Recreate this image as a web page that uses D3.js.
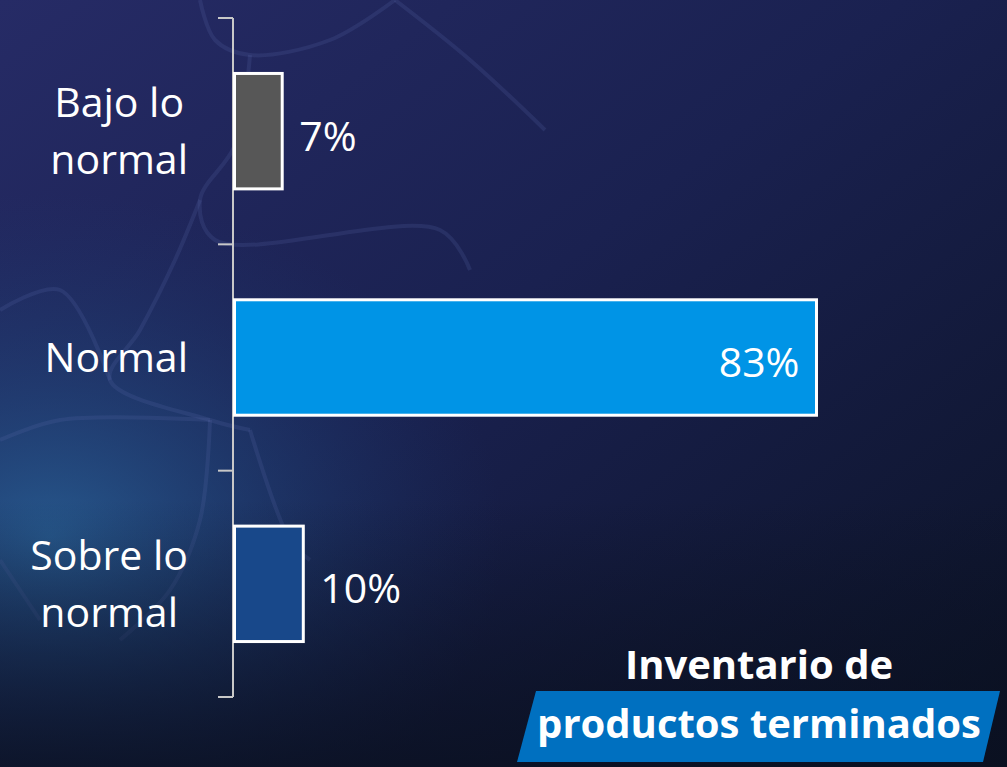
<!DOCTYPE html>
<html>
<head>
<meta charset="utf-8">
<script src="https://cdn.jsdelivr.net/npm/d3@7/dist/d3.min.js"></script>
<style>
  html, body { margin: 0; padding: 0; background: #111a33; }
  svg { display: block; font-family: "Open Sans", "Noto Sans", sans-serif; }
</style>
</head>
<body>
<div id="container"></div>
<script>
var categories = [['Bajo lo', 'normal'], ['Normal'], ['Sobre lo', 'normal']];
var values = [7, 83, 10];
var valueLabels = ['7%', '83%', '10%'];
var barColors = ['#575757', '#0094e6', '#18488a'];
var titleLines = ['Inventario de', 'productos terminados'];

var width = 1007;
var height = 767;
var axisX = 233;

var svg = d3.select('#container')
	.append('svg')
	.attr('width', width)
	.attr('height', height);

// background
var defs = svg.append('defs');
var bg = defs.append('linearGradient')
	.attr('id', 'bg')
	.attr('x1', 0).attr('y1', 0).attr('x2', 1).attr('y2', 1);
bg.append('stop').attr('offset', '0%').attr('stop-color', '#262b66');
bg.append('stop').attr('offset', '45%').attr('stop-color', '#1a2150');
bg.append('stop').attr('offset', '100%').attr('stop-color', '#0b1224');

var glow = defs.append('radialGradient')
	.attr('id', 'glow')
	.attr('cx', 0.05).attr('cy', 0.7).attr('r', 0.45);
glow.append('stop').attr('offset', '0%').attr('stop-color', '#2a6aa0').attr('stop-opacity', 0.75);
glow.append('stop').attr('offset', '100%').attr('stop-color', '#1a3a70').attr('stop-opacity', 0);

var shade = defs.append('linearGradient')
	.attr('id', 'shade')
	.attr('x1', 0).attr('y1', 0).attr('x2', 0).attr('y2', 1);
shade.append('stop').attr('offset', '0%').attr('stop-color', '#0a1020').attr('stop-opacity', 0);
shade.append('stop').attr('offset', '100%').attr('stop-color', '#0a1020').attr('stop-opacity', 0.8);

svg.append('rect').attr('width', width).attr('height', height).attr('fill', 'url(#bg)');
svg.append('rect').attr('width', width).attr('height', height).attr('fill', 'url(#glow)');

// faint ball panel seams
var seams = [
	[[200, 0], [215, 40], [250, 55], [330, 40], [395, 0]],
	[[250, 55], [235, 145], [200, 200], [215, 240], [440, 230], [470, 270]],
	[[395, 0], [470, 60], [545, 130]],
	[[200, 200], [175, 260], [140, 330], [110, 380], [210, 420], [250, 430]],
	[[0, 310], [60, 290], [110, 380]],
	[[210, 420], [200, 520], [170, 590], [120, 640]],
	[[0, 440], [60, 420], [210, 420]],
	[[0, 560], [40, 620]],
	[[250, 430], [290, 540], [310, 560]]
];
svg.append('g')
	.selectAll('path')
	.data(seams)
	.enter()
	.append('path')
	.attr('d', d3.line().curve(d3.curveCatmullRom))
	.attr('fill', 'none')
	.attr('stroke', '#5b6aa8')
	.attr('stroke-opacity', 0.2)
	.attr('stroke-width', 4);

svg.append('rect').attr('y', 500).attr('width', width).attr('height', 267).attr('fill', 'url(#shade)');

// scales
var y = d3.scaleBand()
	.domain(d3.range(categories.length))
	.range([18, 697])
	.padding(0);

var x = d3.scaleLinear()
	.domain([0, 100])
	.range([axisX, axisX + 703]);

var barH = y.bandwidth() * 0.51;

// axis
var axis = svg.append('g').attr('stroke', '#c8c8c8').attr('stroke-width', 2);
axis.append('line')
	.attr('x1', axisX).attr('x2', axisX)
	.attr('y1', y.range()[0]).attr('y2', y.range()[1]);
var tickPos = y.domain().map((d) => y(d)).concat([y.range()[1]]);
axis.selectAll('line.tick')
	.data(tickPos)
	.enter()
	.append('line')
	.attr('class', 'tick')
	.attr('x1', axisX - 15).attr('x2', axisX)
	.attr('y1', (d) => d).attr('y2', (d) => d);

// bars
svg.append('g')
	.selectAll('rect')
	.data(values)
	.enter()
	.append('rect')
	.attr('x', x(0) + 1.5)
	.attr('y', (d, i) => y(i) + y.bandwidth() / 2 - barH / 2)
	.attr('width', (d) => x(d) - x(0) - 1.5)
	.attr('height', barH)
	.attr('fill', (d, i) => barColors[i])
	.attr('stroke', '#ffffff')
	.attr('stroke-width', 3);

// value labels
svg.append('g')
	.selectAll('text')
	.data(values)
	.enter()
	.append('text')
	.attr('x', (d) => d > 50 ? x(d) - 17 : x(d) + 17)
	.attr('y', (d, i) => y(i) + y.bandwidth() / 2 + 5)
	.attr('dy', '0.35em')
	.attr('text-anchor', (d) => d > 50 ? 'end' : 'start')
	.attr('fill', '#ffffff')
	.attr('font-size', 41)
	.text((d, i) => valueLabels[i]);

// category labels: lines centred within a block right-aligned to the axis
var labelRight = 188;
var catG = svg.append('g').attr('fill', '#ffffff').attr('font-size', 41);
categories.forEach((lines, i) => {
	var t = catG.append('text').attr('text-anchor', 'middle');
	var spans = lines.map((line, j) => t.append('tspan')
		.attr('y', y(i) + y.bandwidth() / 2 + (j - (lines.length - 1) / 2) * 57)
		.attr('dy', '0.35em')
		.text(line));
	var maxW = d3.max(spans, (s) => s.node().getComputedTextLength());
	spans.forEach((s) => s.attr('x', labelRight - maxW / 2));
});

// title
svg.append('path')
	.attr('d', 'M536,691L1000,691L983,762L517,762Z')
	.attr('fill', '#0070c0');
svg.append('text')
	.attr('x', 759).attr('y', 679)
	.attr('text-anchor', 'middle')
	.attr('fill', '#ffffff')
	.attr('font-size', 40)
	.attr('font-weight', 'bold')
	.text(titleLines[0]);
svg.append('text')
	.attr('x', 759).attr('y', 738)
	.attr('text-anchor', 'middle')
	.attr('fill', '#ffffff')
	.attr('font-size', 40)
	.attr('font-weight', 'bold')
	.text(titleLines[1]);
</script>
</body>
</html>
